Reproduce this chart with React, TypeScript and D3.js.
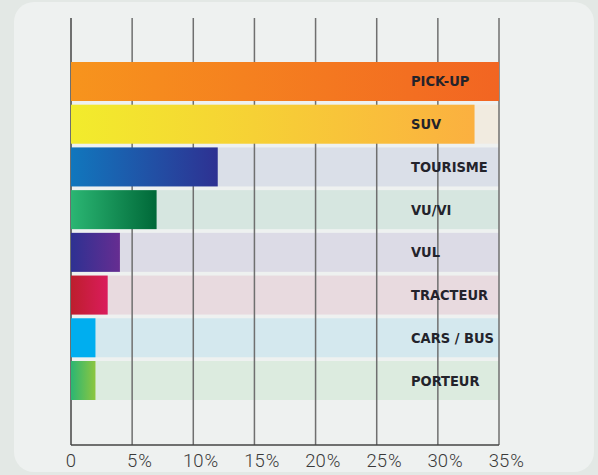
import React, { useEffect, useRef } from 'react';
import * as d3 from 'd3';

// categories and shares (%)
const categories = ['PICK-UP', 'SUV', 'TOURISME', 'VU/VI', 'VUL', 'TRACTEUR', 'CARS / BUS', 'PORTEUR'];
const values = [35, 33, 12, 7, 4, 3, 2, 2];
const ticks = [0, 5, 10, 15, 20, 25, 30, 35];

// colours: gradient start, gradient end, track tint
const gradFrom = ['#f7941d', '#f2ec2c', '#1177bd', '#2bb673', '#2e3192', '#be1e2d', '#00aeef', '#2bb673'];
const gradTo = ['#f26522', '#fbb040', '#2e3192', '#006838', '#662d91', '#da1c5c', '#00aeef', '#8dc63f'];
const trackColors = ['#f4e6da', '#f1ebe0', '#dadfe8', '#d6e6e0', '#dcdbe6', '#e8dadf', '#d4e8ee', '#dcebdf'];

const W = 598;
const H = 475;

export default function App() {
  const ref = useRef<SVGSVGElement>(null);

  useEffect(() => {
    const svg = d3.select(ref.current);
    svg.selectAll('*').remove();

    const x = d3.scaleLinear().domain([0, 35]).range([71, 499]);
    const y = d3.scaleBand().domain(categories).range([62, 400]).paddingInner(0.087);

    const defs = svg.append('defs');
    categories.forEach((c, i) => {
      const g = defs.append('linearGradient').attr('id', 'g' + i).attr('x1', '0').attr('x2', '1').attr('y1', '0').attr('y2', '0');
      g.append('stop').attr('offset', '0').attr('stop-color', gradFrom[i]);
      g.append('stop').attr('offset', '1').attr('stop-color', gradTo[i]);
    });

    // background + card
    svg.append('rect').attr('width', W).attr('height', H).attr('fill', '#e3e8e5');
    svg.append('rect').attr('x', 14).attr('y', 2).attr('width', 580).attr('height', 470).attr('rx', 20).attr('fill', '#eef1f0');

    // tracks
    svg.append('g').selectAll('rect').data(categories).enter().append('rect')
      .attr('x', x(0)).attr('y', d => y(d)!)
      .attr('width', x(35) - x(0)).attr('height', y.bandwidth())
      .attr('fill', (d, i) => trackColors[i]);

    // grid lines
    svg.append('g').selectAll('line').data(ticks).enter().append('line')
      .attr('x1', d => x(d)).attr('x2', d => x(d))
      .attr('y1', 18).attr('y2', 445)
      .attr('stroke', (d) => d === 0 ? '#444' : '#6f6f6f').attr('stroke-width', 1.5);
    svg.append('line').attr('x1', x(0)).attr('x2', x(35)).attr('y1', 445).attr('y2', 445)
      .attr('stroke', '#444').attr('stroke-width', 1.5);

    // bars
    svg.append('g').selectAll('rect').data(categories).enter().append('rect')
      .attr('x', x(0)).attr('y', d => y(d)!)
      .attr('width', (d, i) => x(values[i]) - x(0)).attr('height', y.bandwidth())
      .attr('fill', (d, i) => `url(#g${i})`);

    // labels
    svg.append('g').selectAll('text').data(categories).enter().append('text')
      .attr('x', 411).attr('y', d => y(d)! + y.bandwidth() / 2 + 5)
      .attr('font-family', "'Liberation Sans Narrow', 'DejaVu Sans Condensed', sans-serif")
      .attr('font-weight', 'bold').attr('font-size', 14.5)
      .attr('fill', '#23232b')
      .text(d => d);

    // tick labels: number centred on tick, % trailing
    const tl = svg.append('g').attr('font-family', 'Roboto, sans-serif').attr('font-weight', 300)
      .attr('font-size', 18.5).attr('fill', '#3a3a3a');
    ticks.forEach(t => {
      const num = tl.append('text').attr('x', x(t)).attr('y', 467).attr('text-anchor', 'middle').text(String(t));
      if (t !== 0) {
        const w = (num.node() as SVGTextElement).getComputedTextLength();
        tl.append('text').attr('x', x(t) + w / 2 + 1).attr('y', 467).text('%');
      }
    });
  }, []);

  return <svg ref={ref} width={W} height={H} style={{ position: 'absolute', left: 0, top: 0 }} />;
}
